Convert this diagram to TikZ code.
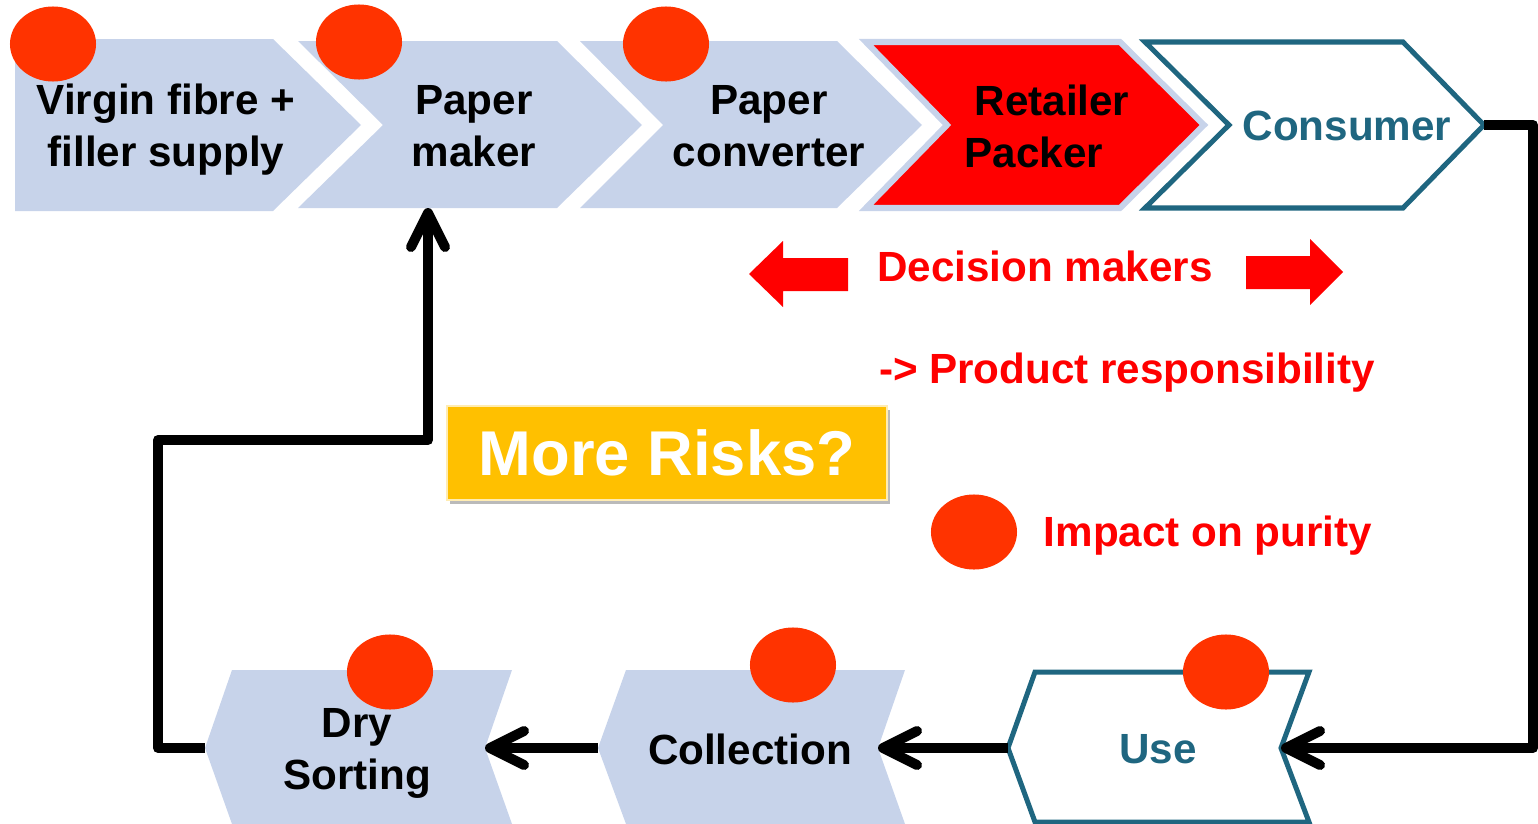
\documentclass[tikz,border=0pt]{standalone}
\usepackage{fontspec}
\setmainfont{Liberation Sans}
\usepackage{tikz}
\usetikzlibrary{arrows.meta,shadows,positioning}
\definecolor{stageblue}{HTML}{C7D3EA}
\definecolor{stageteal}{HTML}{1F6680}
\definecolor{dotred}{HTML}{FF3300}
\definecolor{riskyellow}{HTML}{FFC000}
\newcommand{\lbl}[0]{\fontsize{12pt}{14.8pt}\selectfont\bfseries}
\newcommand{\puritydot}[1]{\fill[dotred] #1 ellipse [x radius=0.43cm, y radius=0.375cm];}

\begin{document}
\begin{tikzpicture}[x=0.01cm,y=-0.01cm,
    stage/.style={fill=stageblue},
    outline/.style={fill=white,draw=stageteal,line width=0.05cm},
    txt/.style={font=\lbl,align=center},
    note/.style={font=\lbl,text=red},
    flow/.style={line width=0.1cm,line join=round,
      -{Straight Barb[length=0.34cm,width=0.34cm,round]}}]
\useasboundingbox (0,0) rectangle (1538,824);

% top row
\fill[stage] (15,39) -- (273,39) -- (361,125) -- (273,211) -- (15,211) -- cycle;
\fill[stage] (298,41) -- (557,41) -- (642,125) -- (557,208) -- (298,208) -- (383,125) -- cycle;
\fill[stage] (580,41) -- (837,41) -- (922,125) -- (837,208) -- (580,208) -- (663,125) -- cycle;
\filldraw[fill=red,draw=stageblue,line width=0.06cm]
  (866,42) -- (1120,42) -- (1204,125) -- (1120,208) -- (866,208) -- (947,125) -- cycle;
\filldraw[outline] (1145,42) -- (1403,42) -- (1484,125) -- (1403,208) -- (1145,208) -- (1229,125) -- cycle;

% bottom row
\filldraw[outline] (1008,748) -- (1035,672) -- (1309,672) -- (1281,748) -- (1309,822) -- (1035,822) -- cycle;
\fill[stage] (598,748) -- (626,670) -- (905,670) -- (878,748) -- (905,824) -- (626,824) -- cycle;
\fill[stage] (205,748) -- (232,670) -- (512,670) -- (485,748) -- (512,824) -- (232,824) -- cycle;

\coordinate (pm-in) at (428,208);
\coordinate (cons-out) at (1484,125);
\coordinate (use-in) at (1281,748);
\coordinate (use-out) at (1008,748);
\coordinate (coll-in) at (878,748);
\coordinate (coll-out) at (598,748);
\coordinate (dry-in) at (485,748);
\coordinate (dry-out) at (205,748);

% loop
\draw[flow] (cons-out) -- (1533,125) -- (1533,748) -- (use-in);
\draw[flow] (use-out) -- (coll-in);
\draw[flow] (coll-out) -- (dry-in);
\draw[flow] (dry-out) -- (158,748) -- (158,440) -- (428,440) -- (pm-in);

% purity dots
\puritydot{(53,44)}
\puritydot{(359,42)}
\puritydot{(666,44)}
\puritydot{(390,672)}
\puritydot{(793,665)}
\puritydot{(1226,672)}
\puritydot{(974,532)}

\node[txt] (virgin) at (166,130) {Virgin fibre +\\filler supply};
\node[txt] (maker) at (474,126) {Paper\\maker};
\node[txt] (conv) at (769,126) {Paper\\converter};
\node[txt] (retail) at (1052,126) {Retailer\\Packer\hspace*{0.36cm}};
\node[txt,text=stageteal] (cons) at (1347,126) {Consumer};
\node[txt,text=stageteal] (use) at (1158,749) {Use};
\node[txt] (coll) at (750,749) {Collection};
\node[txt] (dry) at (357,753) {Dry\\Sorting};

% decision makers
\fill[red] (749,274) -- (783,241) -- (783,258) -- (848,258) -- (848,291) -- (783,291) -- (783,307) -- cycle;
\fill[red] (1343,272) -- (1310,239) -- (1310,256) -- (1246,256) -- (1246,289) -- (1310,289) -- (1310,305) -- cycle;
\node[note] (dm) at (1045,266) {Decision makers};
\node[note] (resp) at (1127,373) {-> Product responsibility};
\node[note] (purity) at (1208,536) {Impact on purity};

\node[fill=riskyellow,draw=white!70!riskyellow,line width=0.02cm,
  minimum width=4.4cm,minimum height=0.94cm,text=white,
  font=\fontsize{18pt}{20pt}\selectfont\bfseries,
  drop shadow={shadow xshift=0.03cm,shadow yshift=-0.04cm,fill=black!45,opacity=0.6}]
  (risks) at (667,453) {More Risks?};
\end{tikzpicture}
\end{document}
